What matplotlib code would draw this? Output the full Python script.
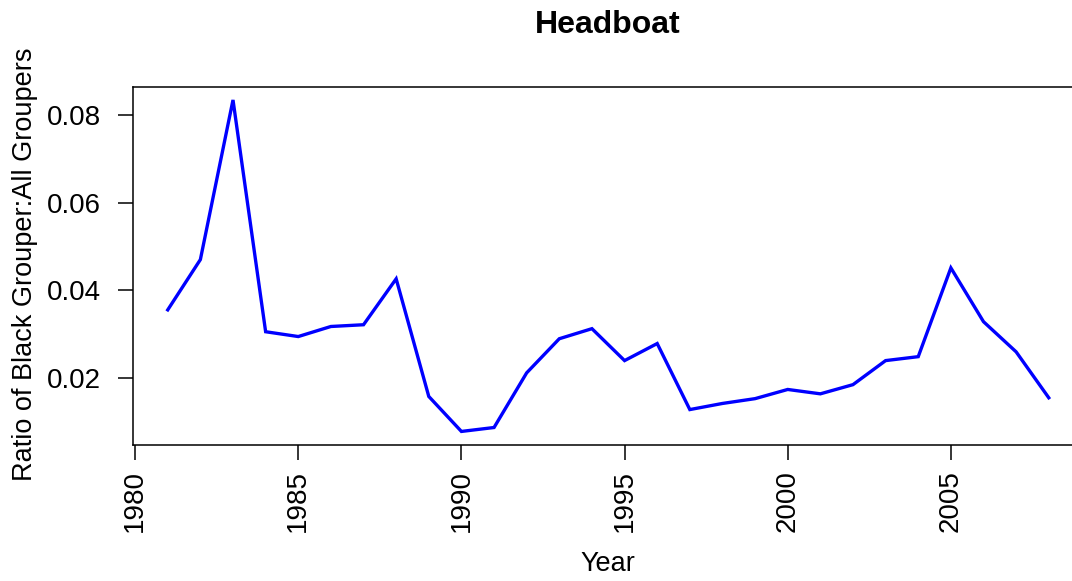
import matplotlib
matplotlib.use("Agg")
import matplotlib.pyplot as plt
import numpy as np

years = list(range(1981, 2009))
ratio = [0.0355, 0.0470, 0.0835, 0.0305, 0.0294, 0.0317, 0.0321, 0.0426,
         0.0157, 0.0077, 0.0086, 0.0211, 0.0289, 0.0312, 0.0239, 0.0278,
         0.0127, 0.0141, 0.0152, 0.0173, 0.0163, 0.0184, 0.0239, 0.0248,
         0.0451, 0.0328, 0.0259, 0.0154]
xticks = [1980, 1985, 1990, 1995, 2000, 2005]
yticks = [0.02, 0.04, 0.06, 0.08]
ytick_labels = ["0.02", "0.04", "0.06", "0.08"]

plt.rcParams['font.family'] = ['Liberation Sans', 'DejaVu Sans']

W, H = 1072, 581
fig = plt.figure(figsize=(W / 100, H / 100), dpi=100)
L, R, T, B = 132.5, 1084, 86.7, 444.7
ax = fig.add_axes([L / W, 1 - B / H, (R - L) / W, (B - T) / H])
ax.plot(years, ratio, color=(0, 0, 1), lw=2.4, solid_joinstyle='miter')

xr = max(years) - min(years)
ax.set_xlim(min(years) - 0.04 * xr, max(years) + 0.04 * xr)
yr = max(ratio) - min(ratio)
ax.set_ylim(min(ratio) - 0.04 * yr, max(ratio) + 0.04 * yr)

ax.set_xticks(xticks)
ax.set_xticklabels([str(x) for x in xticks], rotation=90)
ax.set_yticks(yticks)
ax.set_yticklabels(ytick_labels)
ax.tick_params(axis='both', direction='out', length=11.0, width=1.1,
               labelsize=20, color='black')
ax.tick_params(axis='x', pad=7)
ax.tick_params(axis='y', pad=12)
for s in ax.spines.values():
    s.set_linewidth(1.1)

fig.text(608 / W, 1 - 25 / H, "Headboat", ha='center', va='center',
         fontsize=23, fontweight='bold')
fig.text(608 / W, 1 - 564 / H, "Year", ha='center', va='center', fontsize=19.5)
fig.text(25 / W, 1 - 264 / H, "Ratio of Black Grouper:All Groupers",
         ha='center', va='center', rotation=90, fontsize=19.5)

fig.savefig("out.png", dpi=100)
